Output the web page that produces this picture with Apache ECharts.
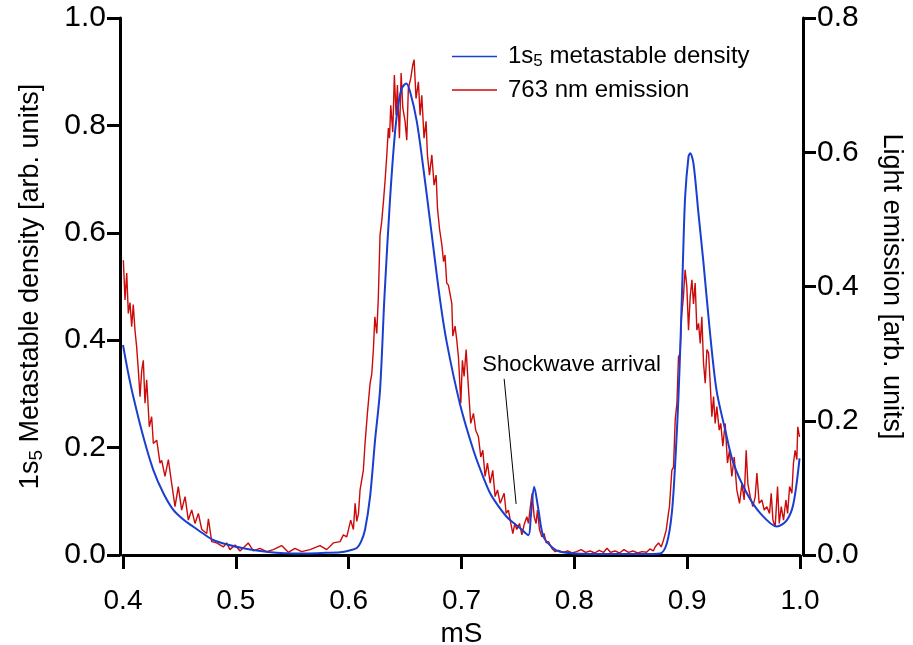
<!DOCTYPE html>
<html><head><meta charset="utf-8">
<script src="https://cdn.jsdelivr.net/npm/echarts@6/dist/echarts.min.js"></script>
<style>html,body{margin:0;padding:0;background:#fff}#c{width:913px;height:645px}</style>
</head><body><div id="c"></div>
<script>
// x positions (mS) and 1s5 metastable density (left axis, arb. units)
const blueX = [0.4,0.4045,0.4091,0.418,0.4269,0.4358,0.4446,0.4535,0.4623,0.471,0.48,0.4933,0.5067,0.52,0.536,0.55,0.565,0.58,0.5924,0.6,0.6072,0.611,0.6145,0.619,0.6234,0.6278,0.6317,0.6367,0.6411,0.6441,0.6471,0.651,0.6544,0.6604,0.6662,0.6722,0.681,0.687,0.6988,0.7105,0.718,0.7254,0.733,0.74,0.746,0.752,0.7593,0.7614,0.7644,0.7682,0.7726,0.7815,0.7874,0.8,0.83,0.86,0.876,0.882,0.8864,0.8894,0.8923,0.8944,0.8962,0.8982,0.9012,0.9027,0.9056,0.91,0.9145,0.92,0.926,0.9337,0.941,0.9529,0.9647,0.9795,0.9884,0.9942,0.9996];
const blueY = [0.391,0.34,0.295,0.22,0.158,0.115,0.084,0.066,0.0527,0.04,0.028,0.019,0.0124,0.008,0.0043,0.003,0.003,0.004,0.005,0.008,0.013,0.025,0.047,0.109,0.214,0.307,0.48,0.664,0.788,0.84,0.869,0.878,0.863,0.807,0.72,0.621,0.475,0.395,0.28,0.1955,0.152,0.115,0.09,0.0713,0.06,0.05,0.037,0.071,0.127,0.084,0.034,0.012,0.006,0.003,0.002,0.002,0.003,0.022,0.078,0.171,0.295,0.419,0.543,0.667,0.742,0.748,0.729,0.636,0.543,0.419,0.307,0.233,0.171,0.115,0.078,0.053,0.065,0.096,0.18];

// x positions (mS) and 763 nm emission (right axis, arb. units)
const redX = [0.4003,0.4018,0.4033,0.4047,0.4062,0.4077,0.4091,0.4106,0.4121,0.4136,0.4151,0.4166,0.418,0.4195,0.421,0.4233,0.4254,0.4269,0.4299,0.4328,0.4343,0.4372,0.4402,0.4432,0.4461,0.449,0.452,0.455,0.4579,0.4609,0.4638,0.4668,0.4698,0.4742,0.4757,0.4786,0.483,0.4889,0.4919,0.4948,0.4993,0.5037,0.511,0.5155,0.5214,0.5273,0.5332,0.5406,0.5465,0.5524,0.5583,0.5657,0.5746,0.5805,0.5864,0.5924,0.5953,0.5983,0.6018,0.6042,0.6057,0.6072,0.6087,0.6101,0.613,0.6145,0.6166,0.619,0.6205,0.6219,0.6232,0.6249,0.6263,0.6278,0.6293,0.6308,0.6322,0.6338,0.6352,0.6362,0.6373,0.6391,0.6405,0.642,0.6432,0.645,0.6465,0.648,0.65,0.6515,0.6529,0.655,0.6568,0.658,0.6597,0.6618,0.6633,0.6648,0.6668,0.6686,0.6698,0.6716,0.6737,0.6757,0.6775,0.6787,0.6805,0.6826,0.6841,0.6854,0.6869,0.6884,0.6898,0.6914,0.6923,0.6943,0.6958,0.6973,0.6994,0.7008,0.7023,0.7041,0.7061,0.7082,0.7106,0.7126,0.715,0.7171,0.7189,0.7209,0.723,0.7254,0.7277,0.7298,0.7319,0.7343,0.7378,0.7396,0.7416,0.7437,0.7455,0.7473,0.749,0.7514,0.7535,0.7555,0.7579,0.7593,0.7614,0.7626,0.7644,0.7661,0.7673,0.7691,0.7712,0.7732,0.775,0.7771,0.78,0.783,0.786,0.79,0.794,0.798,0.802,0.806,0.81,0.814,0.818,0.822,0.826,0.829,0.832,0.836,0.84,0.844,0.848,0.852,0.856,0.86,0.864,0.867,0.87,0.8716,0.8746,0.877,0.879,0.8814,0.8834,0.8843,0.8864,0.8879,0.8894,0.8909,0.8923,0.8938,0.895,0.8967,0.8982,0.8997,0.9012,0.9027,0.9042,0.9056,0.9071,0.9086,0.9101,0.9116,0.913,0.9145,0.916,0.9175,0.919,0.9204,0.9219,0.9234,0.9248,0.9263,0.9284,0.9298,0.9316,0.9337,0.9357,0.9375,0.9396,0.9417,0.944,0.9464,0.9485,0.9505,0.9523,0.9538,0.9559,0.9582,0.9603,0.9618,0.9638,0.9662,0.9683,0.9706,0.973,0.9745,0.976,0.978,0.9801,0.9816,0.9834,0.9854,0.9875,0.989,0.9908,0.9928,0.9942,0.9957,0.9972,0.998,0.9996];
const redY = [0.439,0.380,0.420,0.360,0.376,0.340,0.373,0.335,0.310,0.275,0.236,0.275,0.290,0.226,0.261,0.191,0.206,0.166,0.171,0.137,0.141,0.117,0.142,0.106,0.072,0.102,0.067,0.087,0.052,0.067,0.047,0.062,0.038,0.032,0.054,0.020,0.018,0.012,0.018,0.008,0.015,0.006,0.018,0.006,0.010,0.005,0.008,0.014,0.004,0.010,0.005,0.008,0.014,0.008,0.018,0.020,0.030,0.027,0.052,0.038,0.077,0.050,0.062,0.097,0.126,0.166,0.211,0.256,0.270,0.306,0.355,0.330,0.384,0.477,0.497,0.526,0.556,0.596,0.636,0.621,0.670,0.630,0.715,0.655,0.700,0.621,0.718,0.666,0.646,0.618,0.695,0.710,0.730,0.738,0.680,0.705,0.655,0.685,0.621,0.646,0.596,0.566,0.596,0.551,0.566,0.517,0.486,0.462,0.437,0.447,0.405,0.402,0.400,0.375,0.326,0.341,0.320,0.295,0.226,0.290,0.266,0.306,0.250,0.196,0.211,0.186,0.176,0.146,0.156,0.117,0.137,0.107,0.126,0.087,0.097,0.077,0.092,0.062,0.067,0.047,0.032,0.047,0.038,0.047,0.030,0.045,0.057,0.047,0.077,0.092,0.057,0.047,0.067,0.038,0.027,0.032,0.018,0.020,0.010,0.005,0.007,0.004,0.006,0.003,0.005,0.008,0.004,0.006,0.003,0.007,0.004,0.010,0.004,0.006,0.003,0.008,0.004,0.006,0.003,0.005,0.004,0.009,0.006,0.012,0.018,0.012,0.022,0.037,0.062,0.072,0.126,0.131,0.201,0.226,0.295,0.301,0.355,0.385,0.425,0.400,0.335,0.385,0.410,0.374,0.405,0.335,0.345,0.315,0.355,0.286,0.256,0.306,0.301,0.256,0.206,0.236,0.196,0.221,0.186,0.196,0.162,0.196,0.137,0.156,0.117,0.146,0.097,0.077,0.106,0.082,0.156,0.106,0.087,0.072,0.087,0.122,0.077,0.082,0.067,0.072,0.062,0.092,0.052,0.042,0.102,0.047,0.072,0.052,0.082,0.062,0.102,0.092,0.137,0.156,0.142,0.191,0.176];

// annotation: [x, left-axis value]
const annoText = 'Shockwave arrival';
const annoTextPos = [0.7185, 0.354];
const annoArrowFrom = [0.7378, 0.328];
const annoArrowTo = [0.7484, 0.095];

const xMin = 0.4, xMax = 1.0, xStep = 0.1;
const yLeftMax = 1.0, yRightMax = 0.8, yStep = 0.2;

const FONT = '"Liberation Sans", Arial, Helvetica, sans-serif';
const blueData = blueX.map((x, i) => [x, blueY[i]]);
const redData = redX.map((x, i) => [x, redY[i]]);

const lineBlack = { color: '#000', width: 3 };
const yLabel = { color: '#000', fontFamily: FONT, fontSize: 30, margin: 14, formatter: v => v.toFixed(1) };

const chart = echarts.init(document.getElementById('c'), null, { renderer: 'canvas' });
chart.setOption({
  animation: false,
  backgroundColor: '#fff',
  grid: { left: 123, right: 113, top: 18, bottom: 90, containLabel: false, outerBoundsMode: 'none' },
  legend: {
    orient: 'vertical', left: 452, top: 43, itemGap: 8, padding: 0,
    icon: 'rect', itemWidth: 45, itemHeight: 1.5,
    data: ['blue', 'red'],
    formatter: n => n === 'blue' ? '{f|1s}{s|5}{a| metastable density}' : '{f|763 nm emission}',
    textStyle: {
      color: '#000', fontFamily: FONT, fontSize: 24,
      rich: {
        f: { fontSize: 24, fontFamily: FONT, color: '#000', padding: [0,0,0,6], lineHeight: 27 },
        a: { fontSize: 24, fontFamily: FONT, color: '#000', lineHeight: 27 },
        s: { fontSize: 17, fontFamily: FONT, color: '#000', verticalAlign: 'bottom', padding: [10,0,0,0], lineHeight: 27 }
      }
    }
  },
  xAxis: {
    type: 'value', min: xMin, max: xMax, interval: xStep, offset: 2,
    axisLine: { show: true, lineStyle: lineBlack },
    axisTick: { show: true, length: 14, lineStyle: lineBlack },
    splitLine: { show: false },
    axisLabel: { color: '#000', fontFamily: FONT, fontSize: 28, margin: 30, formatter: v => v.toFixed(1) },
    name: 'mS', nameLocation: 'middle', nameGap: 56,
    nameTextStyle: { color: '#000', fontFamily: FONT, fontSize: 28 }
  },
  yAxis: [
    {
      type: 'value', min: 0, max: yLeftMax, interval: yStep, position: 'left', offset: 3,
      axisLine: { show: true, lineStyle: lineBlack },
      axisTick: { show: true, length: 13, lineStyle: lineBlack },
      splitLine: { show: false },
      axisLabel: yLabel,
      name: '{a|1s}{s|5}{a| Metastable density [arb. units]}', nameLocation: 'middle', nameRotate: 90, nameGap: 74,
      nameTextStyle: {
        color: '#000', fontFamily: FONT, fontSize: 27,
        rich: {
          a: { fontSize: 27, fontFamily: FONT, color: '#000' },
          s: { fontSize: 19, fontFamily: FONT, color: '#000', verticalAlign: 'bottom', padding: [12,0,0,0] }
        }
      }
    },
    {
      type: 'value', min: 0, max: yRightMax, interval: yStep, position: 'right', offset: 3,
      axisLine: { show: true, lineStyle: lineBlack },
      axisTick: { show: true, length: 13, lineStyle: lineBlack },
      splitLine: { show: false },
      axisLabel: yLabel,
      name: 'Light emission [arb. units]', nameLocation: 'middle', nameRotate: -90, nameGap: 75,
      nameTextStyle: { color: '#000', fontFamily: FONT, fontSize: 27 }
    }
  ],
  series: [
    {
      name: 'red', type: 'line', yAxisIndex: 1, data: redData, z: 2,
      showSymbol: false, symbol: 'none',
      lineStyle: { color: '#cc0a0a', width: 1.4 }, itemStyle: { color: '#cc0a0a' },
      emphasis: { disabled: true }
    },
    {
      name: 'blue', type: 'line', yAxisIndex: 0, data: blueData, z: 3,
      showSymbol: false, symbol: 'none', smooth: 0.3,
      lineStyle: { color: '#1a3fd0', width: 2 }, itemStyle: { color: '#1a3fd0' },
      emphasis: { disabled: true },
      markLine: {
        silent: true, animation: false,
        symbol: ['none', 'arrow'], symbolSize: [0, 14],
        label: { show: false },
        lineStyle: { color: '#000', width: 1, type: 'solid' },
        emphasis: { disabled: true },
        data: [[{ coord: annoArrowFrom }, { coord: annoArrowTo }]]
      },
      markPoint: {
        silent: true, animation: false,
        symbol: 'circle', symbolSize: 0,
        itemStyle: { color: 'transparent' },
        label: { show: true, position: 'right', distance: 0, formatter: annoText, color: '#000', fontFamily: FONT, fontSize: 22 },
        data: [{ coord: annoTextPos }]
      }
    }
  ]
});
</script></body></html>
